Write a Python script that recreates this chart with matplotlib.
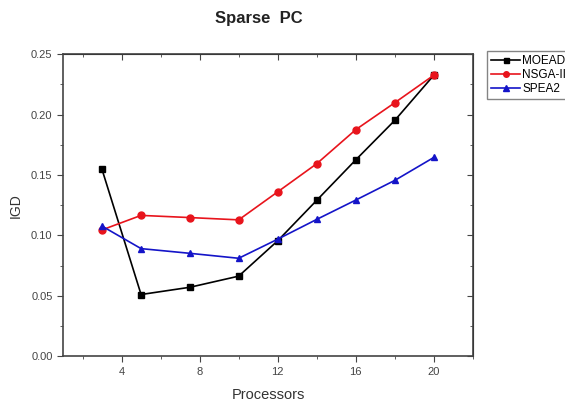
import matplotlib
matplotlib.use("Agg")
import matplotlib.pyplot as plt
from matplotlib.ticker import MultipleLocator

plt.rcParams['font.family'] = ['Liberation Sans', 'DejaVu Sans']

processors = [3, 5, 7.5, 10, 12, 14, 16, 18, 20]
moead = [0.1545, 0.0510, 0.0570, 0.0662, 0.0955, 0.1290, 0.1625, 0.1952, 0.2326]
nsga2 = [0.1045, 0.1165, 0.1147, 0.1128, 0.1360, 0.1593, 0.1875, 0.2098, 0.2326]
spea2 = [0.1076, 0.0890, 0.0851, 0.0810, 0.0968, 0.1132, 0.1292, 0.1455, 0.1645]

fig = plt.figure(figsize=(5.65, 4.07), dpi=100)
ax = fig.add_axes([0.1115, 0.125, 0.7255, 0.742])

ax.plot(processors, moead, '-s', color='black', ms=4.5, lw=1.2, label='MOEAD')
ax.plot(processors, nsga2, '-o', color='#e8141c', ms=5, lw=1.2, label='NSGA-II')
ax.plot(processors, spea2, '-^', color='#1414c8', ms=5, lw=1.2, label='SPEA2')

ax.set_xlim(1, 22)
ax.set_ylim(0, 0.25)
ax.xaxis.set_major_locator(MultipleLocator(4))
ax.xaxis.set_minor_locator(MultipleLocator(2))
ax.yaxis.set_major_locator(MultipleLocator(0.05))
ax.yaxis.set_minor_locator(MultipleLocator(0.025))
ax.yaxis.set_major_formatter(plt.FormatStrFormatter('%.2f'))

ax.tick_params(which='both', direction='out', top=False, right=False,
               labelsize=8, labelcolor='#444444', color='#444444')
ax.tick_params(which='major', length=4)
ax.tick_params(which='minor', length=2.5)
# mirrored ticks on top/right point inward
sec_x = ax.secondary_xaxis('top')
sec_x.xaxis.set_major_locator(MultipleLocator(4))
sec_x.xaxis.set_minor_locator(MultipleLocator(2))
sec_x.tick_params(which='both', direction='in', labeltop=False, color='#444444')
sec_x.tick_params(which='major', length=4)
sec_x.tick_params(which='minor', length=2.5)
sec_y = ax.secondary_yaxis('right')
sec_y.yaxis.set_major_locator(MultipleLocator(0.05))
sec_y.yaxis.set_minor_locator(MultipleLocator(0.025))
sec_y.tick_params(which='both', direction='in', labelright=False, color='#444444')
sec_y.tick_params(which='major', length=4)
sec_y.tick_params(which='minor', length=2.5)

for sp in ax.spines.values():
    sp.set_color('#444444')
    sp.set_linewidth(1.2)

ax.set_xlabel('Processors', fontsize=10.5, color='#333333', labelpad=8)
ax.set_ylabel('IGD', fontsize=10, color='#333333', labelpad=6)

fig.text(0.458, 0.955, 'Sparse  PC', fontsize=12, fontweight='bold',
         ha='center', va='center', color='#222222')

ax.legend(loc='upper left', bbox_to_anchor=(1.035, 1.01), fontsize=8.5,
          frameon=True, fancybox=False, edgecolor='#666666',
          handlelength=2.4, handletextpad=0.2, borderpad=0.35,
          labelspacing=0.15, borderaxespad=0, markerscale=0.8)

fig.savefig('out.png', dpi=100)
